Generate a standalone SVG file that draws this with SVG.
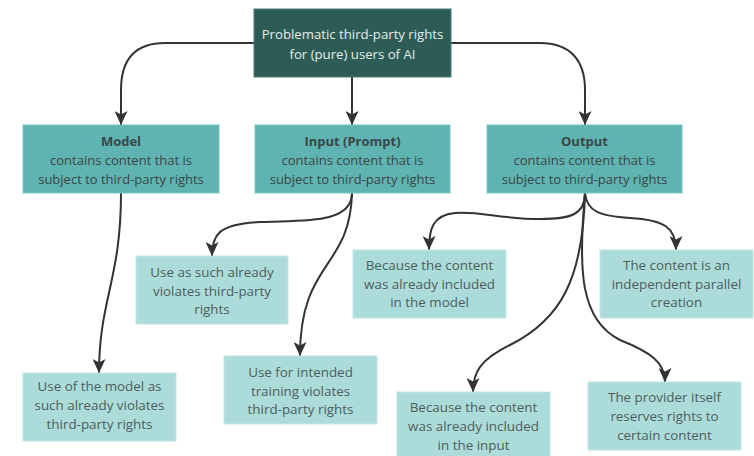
<svg xmlns="http://www.w3.org/2000/svg" width="754" height="456" viewBox="0 0 754 456">
<defs>
<marker id="arr" viewBox="0 0 14 13" refX="14" refY="6.5" markerWidth="14" markerHeight="13" markerUnits="userSpaceOnUse" orient="auto">
<path d="M0,0 L14,6.5 L0,13 L3.5,6.5 z" fill="#333"/>
</marker>
<style>
text{font-family:"Open Sans","Noto Sans","Liberation Sans",sans-serif;font-size:13px;text-anchor:middle}
.top rect{fill:#2d5c57;stroke:#4f7a75;stroke-width:1}
.top text{fill:#e4ece8;font-size:13.2px}
.mid rect{fill:#5fb4b1;stroke:#7cc4c1;stroke-width:1}
.mid text{fill:#3b4747}
.mid .t{font-weight:bold}
.low rect{fill:#acdcd9;stroke:#c2e6e3;stroke-width:1}
.low text{fill:#4e5c5c;font-size:13.4px}
.conn path{fill:none;stroke:#333;stroke-width:2;marker-end:url(#arr)}
</style>
</defs>
<rect width="754" height="456" fill="#fff"/>
<g class="conn" id="connectors">
<path d="M254,43 L165,43 C135,43 121,60 121,90 L121,125"/>
<path d="M352,77 L352,125"/>
<path d="M451,43 L540,43 C570,43 585,60 585,90 L585,125"/>
<path d="M121,193 C121,280 99,300 99,373"/>
<path d="M352,193 C352,225 300,220 260,222 C218,224 212,235 212,256"/>
<path d="M352,193 C350,270 300,260 300,356"/>
<path d="M585,193 C585,215 570,219 540,219 C500,219 480,211 455,213 C432,215 429,230 429,250"/>
<path d="M585,193 C587,212 600,216 630,218 C665,220 676,228 676,250"/>
<path d="M585,193 C583,280 560,320 510,345 C480,360 473,372 473,392"/>
<path d="M585,193 C578,270 580,320 620,340 C650,352 665,362 665,382"/>
</g>
<g class="top" id="root">
<rect x="254" y="9" width="197" height="68"/>
<text x="352.5" y="39">Problematic third-party rights</text>
<text x="352.5" y="59">for (pure) users of AI</text>
</g>
<g class="mid" id="model">
<rect x="23" y="125" width="196" height="68"/>
<text class="t" x="121" y="146">Model</text>
<text x="121" y="165">contains content that is</text>
<text x="121" y="184">subject to third-party rights</text>
</g>
<g class="mid" id="input">
<rect x="255" y="125" width="195" height="68"/>
<text class="t" x="352.5" y="146">Input (Prompt)</text>
<text x="352.5" y="165">contains content that is</text>
<text x="352.5" y="184">subject to third-party rights</text>
</g>
<g class="mid" id="output">
<rect x="487" y="125" width="195" height="68"/>
<text class="t" x="584.5" y="146">Output</text>
<text x="584.5" y="165">contains content that is</text>
<text x="584.5" y="184">subject to third-party rights</text>
</g>
<g class="low" id="model-use">
<rect x="23" y="373" width="153" height="68"/>
<text x="99.5" y="391">Use of the model as</text>
<text x="99.5" y="410">such already violates</text>
<text x="99.5" y="429">third-party rights</text>
</g>
<g class="low" id="input-use">
<rect x="136" y="256" width="152" height="68"/>
<text x="212" y="277">Use as such already</text>
<text x="212" y="296">violates third-party</text>
<text x="212" y="314">rights</text>
</g>
<g class="low" id="input-training">
<rect x="224" y="356" width="153" height="68"/>
<text x="300.5" y="377">Use for intended</text>
<text x="300.5" y="396">training violates</text>
<text x="300.5" y="414">third-party rights</text>
</g>
<g class="low" id="out-model">
<rect x="353" y="250" width="153" height="68"/>
<text x="429.5" y="270">Because the content</text>
<text x="429.5" y="289">was already included</text>
<text x="429.5" y="307">in the model</text>
</g>
<g class="low" id="out-parallel">
<rect x="600" y="250" width="153" height="68"/>
<text x="676.5" y="270">The content is an</text>
<text x="676.5" y="289">independent parallel</text>
<text x="676.5" y="307">creation</text>
</g>
<g class="low" id="out-input">
<rect x="397" y="392" width="153" height="68"/>
<text x="473.5" y="412">Because the content</text>
<text x="473.5" y="431">was already included</text>
<text x="473.5" y="450">in the input</text>
</g>
<g class="low" id="out-provider">
<rect x="588" y="382" width="153" height="68"/>
<text x="664.5" y="402">The provider itself</text>
<text x="664.5" y="421">reserves rights to</text>
<text x="664.5" y="440">certain content</text>
</g>
</svg>
